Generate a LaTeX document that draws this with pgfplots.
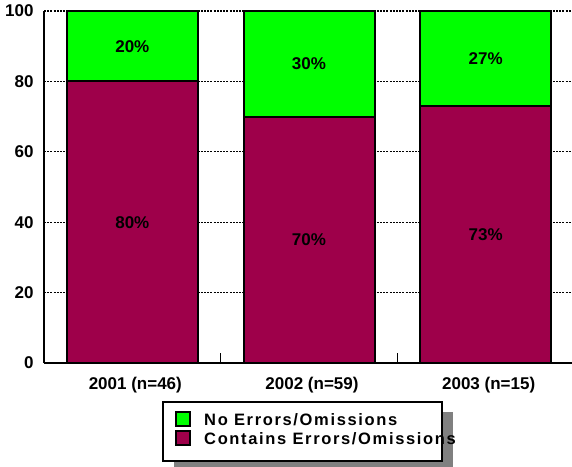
\documentclass[border=0pt]{standalone}
\usepackage{fontspec}
\setmainfont{Liberation Sans}
\newfontfamily\legfont{Liberation Sans}[LetterSpace=10]
\usepackage{pgfplots}
\pgfplotsset{compat=1.18}
\definecolor{maroon}{RGB}{158,0,74}
\definecolor{lime}{RGB}{0,255,0}
\newcommand\lbl{\fontsize{17}{19}\selectfont\bfseries}

\begin{document}
\begin{tikzpicture}
\begin{axis}[
  at={(44pt,-363pt)}, anchor=south west,
  scale only axis, width=530pt, height=352pt,
  xmin=-0.5, xmax=2.5, ymin=0, ymax=100,
  axis lines=left, axis line style={-, line width=2pt},
  xtick={0,1,2}, xticklabels={2001 (n=46),2002 (n=59),2003 (n=15)},
  ytick={0,20,...,100},
  major tick length=0pt,
  ymajorgrids, major grid style={black, line width=1.2pt, dash pattern=on 2pt off 1.2pt},
  tick label style={font=\lbl},
  /pgf/number format/assume math mode=true,
  yticklabel style={xshift=-7pt},
  xticklabel style={yshift=-11pt, xshift=3pt},
  bar width=131pt,
  clip=false,
]
\addplot[ybar, bar shift=0pt, fill=lime, draw=black, line width=2pt]
  coordinates {(0,100) (1,100) (2,100)};
\addplot[ybar, bar shift=0pt, fill=maroon, draw=black, line width=2pt]
  coordinates {(0,80) (1,70) (2,73)};
\addplot[draw=none, mark=none, point meta=explicit symbolic,
  nodes near coords={\pgfplotspointmeta\%},
  every node near coord/.append style={anchor=center, font=\lbl, text=black}]
  table[meta=lbl] {
x y lbl
0 40 80
1 35 70
2 36.5 73
0 90 20
1 85 30
2 86.5 27
};
\draw[line width=1pt] (axis cs:0.5,0) -- ([yshift=10pt]axis cs:0.5,0);
\draw[line width=1pt] (axis cs:1.5,0) -- ([yshift=10pt]axis cs:1.5,0);
\end{axis}
% legend
\fill[gray] (174pt,-412pt) rectangle (453pt,-472pt);
\draw[line width=2pt, fill=white] (163pt,-402pt) rectangle (442pt,-461pt);
\draw[line width=1.5pt, fill=lime] (176pt,-412pt) rectangle (190pt,-426pt);
\draw[line width=1.5pt, fill=maroon] (176pt,-431pt) rectangle (190pt,-445pt);
\node[anchor=west, inner sep=0pt, font=\legfont\fontsize{16.5}{18}\selectfont\bfseries] at (204pt,-419.5pt) {No Errors/Omissions};
\node[anchor=west, inner sep=0pt, font=\legfont\fontsize{16.5}{18}\selectfont\bfseries] at (204pt,-439pt) {Contains Errors/Omissions};
\pgfresetboundingbox
\path[use as bounding box] (0,0) rectangle (572pt,-466pt);
\end{tikzpicture}
\end{document}
